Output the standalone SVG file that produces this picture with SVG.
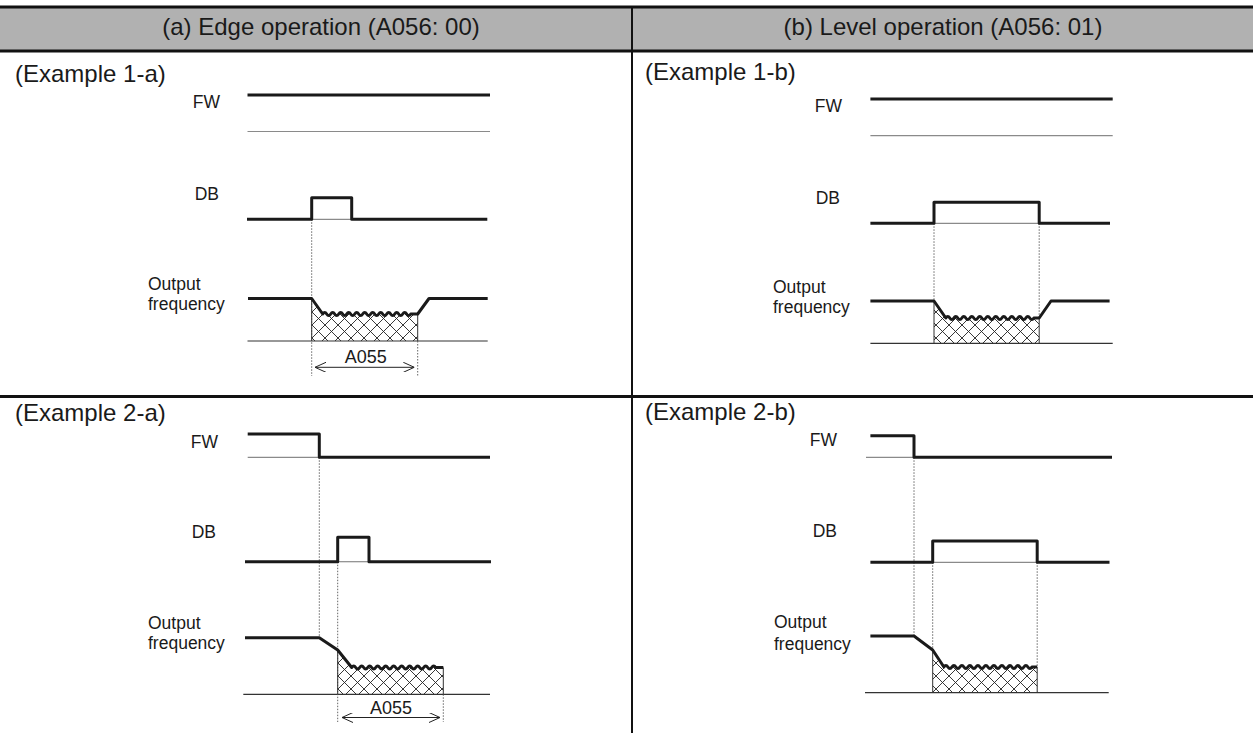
<svg xmlns="http://www.w3.org/2000/svg" width="1253" height="733" viewBox="0 0 1253 733">
<style>
text{font-family:"Liberation Sans",Arial,Helvetica,sans-serif;fill:#1a1a1a}
.hd{font-size:24px;text-anchor:middle}
.ex{font-size:24px}
.lb{font-size:17.5px}
.lr{font-size:17.5px;text-anchor:end}
.am{font-size:18px;text-anchor:middle}
.tb{stroke:#111;stroke-width:3;fill:none}
.vd{stroke:#111;stroke-width:2;fill:none}
.sig{stroke:#1a1a1a;stroke-width:3;fill:none;stroke-linejoin:round}
.ref{stroke:#8a8a8a;stroke-width:1.2;fill:none}
.base{stroke:#333;stroke-width:1.2;fill:none}
.dot{stroke:#555;stroke-width:0.9;stroke-dasharray:1.5 1.5;fill:none}
.edge{stroke:#333;stroke-width:1;fill:none}
.hat{fill:url(#hatch);stroke:none}
.dim{stroke:#222;stroke-width:1;fill:none;marker-start:url(#arr);marker-end:url(#arr)}
</style>
<defs>
<pattern id="hatch" patternUnits="userSpaceOnUse" width="13" height="13">
<path d="M0,0 L13,13 M13,0 L0,13 M-1,12 L1,14 M12,-1 L14,1" stroke="#222" stroke-width="0.9" fill="none"/>
</pattern>
<marker id="arr" viewBox="0 0 11 10" refX="11" refY="5" markerWidth="11" markerHeight="10" markerUnits="userSpaceOnUse" orient="auto-start-reverse">
<path d="M0,0 L11,5 L0,10" fill="none" stroke="#222" stroke-width="1"/>
</marker>
</defs>
<rect width="1253" height="733" fill="#fff"/>

<g id="table">
<rect x="0" y="7" width="1253" height="44" fill="#b1b1b1"/>
<line class="tb" x1="0" y1="7" x2="1253" y2="7"/>
<line class="tb" x1="0" y1="51" x2="1253" y2="51"/>
<line class="tb" x1="0" y1="396.5" x2="1253" y2="396.5"/>
<line class="vd" x1="632" y1="7" x2="632" y2="733"/>
<text class="hd" x="321" y="35">(a) Edge operation (A056: 00)</text>
<text class="hd" x="943" y="35">(b) Level operation (A056: 01)</text>
</g>

<g id="example-1a">
<text class="ex" x="15" y="82">(Example 1-a)</text>
<text class="lr" x="220" y="107.5">FW</text>
<text class="lr" x="219" y="200">DB</text>
<text class="lb" x="148" y="289.5">Output</text>
<text class="lb" x="148" y="309.5">frequency</text>
<path class="hat" d="M311.7,341 V298.5 L322.7,314 H417.7 V341 Z"/>
<line class="ref" x1="247.5" y1="131.5" x2="490" y2="131.5"/>
<line class="ref" x1="311.7" y1="219.3" x2="351.7" y2="219.3"/>
<line class="base" x1="247.5" y1="341" x2="487.7" y2="341"/>
<g id="connectors-1a">
<line class="dot" x1="311.7" y1="219.3" x2="311.7" y2="376"/>
<line class="dot" x1="417.7" y1="341" x2="417.7" y2="376"/>
<line class="edge" x1="311.7" y1="298.5" x2="311.7" y2="341"/>
<line class="edge" x1="417.7" y1="314" x2="417.7" y2="341"/>
<line class="dim" x1="315" y1="367.3" x2="414.3" y2="367.3"/>
</g>
<path class="sig" d="M247.5,95 H490"/>
<path class="sig" d="M247,219.3 H311.7 V197.7 H351.7 V219.3 H487.3"/>
<path class="sig" d="M248,298.5 H311.7 L322.7,314 q2,-3 4,0 t4,0 t4,0 t4,0 t4,0 t4,0 t4,0 t4,0 t4,0 t4,0 t4,0 t4,0 t4,0 t4,0 t4,0 t4,0 t4,0 t4,0 t4,0 t4,0 t4,0 t4,0 L417.7,314 L429,298.5 H487.7"/>
<text class="am" x="365.7" y="362.5">A055</text>
</g>

<g id="example-2a">
<text class="ex" x="15" y="421">(Example 2-a)</text>
<text class="lr" x="218" y="447.5">FW</text>
<text class="lr" x="216" y="537.5">DB</text>
<text class="lb" x="148" y="629">Output</text>
<text class="lb" x="148" y="649">frequency</text>
<path class="hat" d="M337.7,694.3 V650 L351.7,667.5 H443.3 V694.3 Z"/>
<line class="ref" x1="247.7" y1="457.3" x2="319.3" y2="457.3"/>
<line class="ref" x1="337.7" y1="561.7" x2="369" y2="561.7"/>
<line class="base" x1="243.3" y1="694.3" x2="490" y2="694.3"/>
<g id="connectors-2a">
<line class="dot" x1="319.3" y1="457.3" x2="319.3" y2="637.7"/>
<line class="dot" x1="337.7" y1="561.7" x2="337.7" y2="722"/>
<line class="dot" x1="443.3" y1="694.3" x2="443.3" y2="722"/>
<line class="edge" x1="337.7" y1="650" x2="337.7" y2="694.3"/>
<line class="edge" x1="443.3" y1="667.5" x2="443.3" y2="694.3"/>
<line class="dim" x1="342" y1="717.5" x2="440" y2="717.5"/>
</g>
<path class="sig" d="M247.7,434 H319.3 V457.3 H490"/>
<path class="sig" d="M245,561.7 H337.7 V537.3 H369 V561.7 H491"/>
<path class="sig" d="M245,637.7 H319.3 L337.7,650 L351.7,667.5 q2,-3 4,0 t4,0 t4,0 t4,0 t4,0 t4,0 t4,0 t4,0 t4,0 t4,0 t4,0 t4,0 t4,0 t4,0 t4,0 t4,0 t4,0 t4,0 t4,0 t4,0 t4,0 L443.3,667.5"/>
<text class="am" x="391" y="713.5">A055</text>
</g>

<g id="example-1b">
<text class="ex" x="645" y="80">(Example 1-b)</text>
<text class="lr" x="842" y="111.5">FW</text>
<text class="lr" x="840" y="204">DB</text>
<text class="lb" x="773" y="293.3">Output</text>
<text class="lb" x="773" y="313.3">frequency</text>
<path class="hat" d="M934,343.3 V301 L945.8,318 H1039.2 V343.3 Z"/>
<line class="ref" x1="870.4" y1="135.7" x2="1112.7" y2="135.7"/>
<line class="ref" x1="934" y1="223.3" x2="1039.2" y2="223.3"/>
<line class="base" x1="870.4" y1="343.3" x2="1112.7" y2="343.3"/>
<g id="connectors-1b">
<line class="dot" x1="934" y1="223.3" x2="934" y2="301"/>
<line class="dot" x1="1039.2" y1="223.3" x2="1039.2" y2="318"/>
<line class="edge" x1="934" y1="301" x2="934" y2="343.3"/>
<line class="edge" x1="1039.2" y1="318" x2="1039.2" y2="343.3"/>
</g>
<path class="sig" d="M870.4,99 H1112.7"/>
<path class="sig" d="M870.4,223.3 H934 V202.3 H1039.2 V223.3 H1110"/>
<path class="sig" d="M870.4,301 H934 L945.8,318 q2,-3 4,0 t4,0 t4,0 t4,0 t4,0 t4,0 t4,0 t4,0 t4,0 t4,0 t4,0 t4,0 t4,0 t4,0 t4,0 t4,0 t4,0 t4,0 t4,0 t4,0 t4,0 t4,0 L1039.2,318 L1051,301 H1109.6"/>
</g>

<g id="example-2b">
<text class="ex" x="645" y="420">(Example 2-b)</text>
<text class="lr" x="837" y="446">FW</text>
<text class="lr" x="837" y="536.7">DB</text>
<text class="lb" x="774" y="628.3">Output</text>
<text class="lb" x="774" y="650">frequency</text>
<path class="hat" d="M932.7,692.7 V650 L943.9,667 H1037.2 V692.7 Z"/>
<line class="ref" x1="866" y1="457.3" x2="914" y2="457.3"/>
<line class="ref" x1="932.7" y1="562.3" x2="1037.2" y2="562.3"/>
<line class="base" x1="865" y1="692.7" x2="1108.7" y2="692.7"/>
<g id="connectors-2b">
<line class="dot" x1="914" y1="457.3" x2="914" y2="636"/>
<line class="dot" x1="932.7" y1="562.3" x2="932.7" y2="650"/>
<line class="dot" x1="1037.2" y1="562.3" x2="1037.2" y2="667"/>
<line class="edge" x1="932.7" y1="650" x2="932.7" y2="692.7"/>
<line class="edge" x1="1037.2" y1="667" x2="1037.2" y2="692.7"/>
</g>
<path class="sig" d="M870.4,435.7 H914 V457.3 H1112"/>
<path class="sig" d="M870.4,562.3 H932.7 V541 H1037.2 V562.3 H1109.5"/>
<path class="sig" d="M870.4,636 H914 L932.7,650 L943.9,667 q2,-3 4,0 t4,0 t4,0 t4,0 t4,0 t4,0 t4,0 t4,0 t4,0 t4,0 t4,0 t4,0 t4,0 t4,0 t4,0 t4,0 t4,0 t4,0 t4,0 t4,0 t4,0 t4,0 L1037.2,667"/>
</g>
</svg>
